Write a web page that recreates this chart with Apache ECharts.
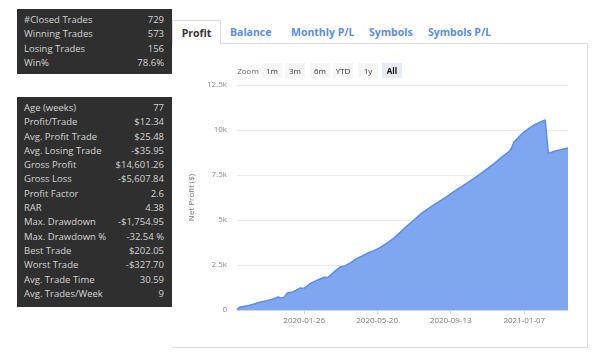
<!DOCTYPE html>
<html>
<head>
<meta charset="utf-8">
<script src="https://cdn.jsdelivr.net/npm/echarts@6/dist/echarts.min.js"></script>
<style>
  body { margin: 0; width: 600px; height: 352px; background: #fff; font-family: "Open Sans", sans-serif; position: relative; overflow: hidden; }
  .stats { position: absolute; left: 17px; width: 155px; background: #2f2f2f; color: #d4d4d4; font-size: 9.5px; box-sizing: border-box; padding: 4px 8px 4px 7px; }
  .stats div { height: 14.3px; line-height: 14.3px; display: flex; justify-content: space-between; }
  #tabs { position: absolute; left: 172px; top: 20px; height: 24px; width: 416px; }
  #tabs span { position: absolute; top: 0; line-height: 24px; font-size: 10.5px; font-weight: bold; color: #5b8ce6; }
  #tabs .on { color: #333; left: 0; width: 47px; text-align: center; border: 1px solid #ddd; border-bottom: none; background: #fff; height: 24px; z-index: 2; }
  #panel { position: absolute; left: 172px; top: 43px; width: 415px; height: 303px; border: 1px solid #ddd; border-left: none; }
  #zoom { position: absolute; left: 237px; top: 63px; height: 15px; font-size: 8px; color: #666; }
  #zoom span { position: absolute; top: 0; height: 15px; line-height: 15px; text-align: center; background: #f7f7f7; color: #333; }
  #zoom .lbl { background: none; color: #666; }
  #zoom .act { background: #e6ebf5; font-weight: bold; color: #000; }
  #chart { position: absolute; left: 172px; top: 44px; width: 416px; height: 303px; }
</style>
</head>
<body>
<div class="stats" id="box1" style="top:9px;height:65px;"></div>
<div class="stats" id="box2" style="top:97px;height:210px;"></div>
<div id="panel"></div>
<div id="tabs">
  <span class="on">Profit</span>
  <span style="left:58px">Balance</span>
  <span style="left:119px">Monthly P/L</span>
  <span style="left:197px">Symbols</span>
  <span style="left:256px">Symbols P/L</span>
</div>
<div id="chart"></div>
<div id="zoom">
  <span class="lbl" style="left:0;width:22px">Zoom</span>
  <span style="left:25px;width:20px">1m</span>
  <span style="left:48px;width:20px">3m</span>
  <span style="left:73px;width:20px">6m</span>
  <span style="left:96px;width:20px">YTD</span>
  <span style="left:121px;width:20px">1y</span>
  <span class="act" style="left:145px;width:20px">All</span>
</div>
<script>
const summaryLabels = ['#Closed Trades', 'Winning Trades', 'Losing Trades', 'Win%'];
const summaryValues = ['729', '573', '156', '78.6%'];

const statLabels = ['Age (weeks)', 'Profit/Trade', 'Avg. Profit Trade', 'Avg. Losing Trade', 'Gross Profit', 'Gross Loss',
  'Profit Factor', 'RAR', 'Max. Drawdown', 'Max. Drawdown %', 'Best Trade', 'Worst Trade', 'Avg. Trade Time', 'Avg. Trades/Week'];
const statValues = ['77', '$12.34', '$25.48', '-$35.95', '$14,601.26', '-$5,607.84',
  '2.6', '4.38', '-$1,754.95', '-32.54 %', '$202.05', '-$327.70', '30.59', '9'];

const dates = ['2019-10-12', '2019-10-16', '2019-10-28', '2019-11-08', '2019-11-17', '2019-11-28', '2019-12-08', '2019-12-16',
  '2019-12-20', '2019-12-25', '2019-12-30', '2020-01-06', '2020-01-12', '2020-01-20', '2020-01-24', '2020-01-28',
  '2020-02-05', '2020-02-14', '2020-02-20', '2020-02-27', '2020-03-03', '2020-03-09', '2020-03-16', '2020-03-23',
  '2020-03-30', '2020-04-08', '2020-04-16', '2020-04-25', '2020-05-05', '2020-05-15', '2020-05-25', '2020-06-04',
  '2020-06-15', '2020-06-25', '2020-07-05', '2020-07-17', '2020-07-28', '2020-08-08', '2020-08-17', '2020-08-28',
  '2020-09-08', '2020-09-18', '2020-09-30', '2020-10-10', '2020-10-20', '2020-11-01', '2020-11-11', '2020-11-21',
  '2020-12-02', '2020-12-14', '2020-12-18', '2020-12-22', '2021-01-01', '2021-01-07', '2021-01-15', '2021-01-23',
  '2021-02-01', '2021-02-09', '2021-02-14', '2021-02-25', '2021-03-17'];
const profit = [30, 150, 230, 330, 430, 520, 610, 730,
  660, 690, 940, 980, 1080, 1230, 1200, 1250,
  1480, 1630, 1720, 1820, 1800, 1980, 2200, 2400,
  2450, 2620, 2830, 2980, 3150, 3300, 3480, 3700,
  3980, 4300, 4640, 5000, 5350, 5620, 5830, 6080,
  6330, 6570, 6850, 7080, 7320, 7620, 7880, 8150,
  8480, 8800, 9000, 9350, 9700, 9900, 10100, 10280,
  10430, 10560, 8700, 8830, 9000];

const xTickLabels = ['2020-01-26', '2020-05-20', '2020-09-13', '2021-01-07'];
const yTickLabels = ['0', '2.5k', '5k', '7.5k', '10k', '12.5k'];

function fillBox(id, labels, values) {
  const box = document.getElementById(id);
  labels.forEach((l, i) => {
    const row = document.createElement('div');
    row.innerHTML = '<span>' + l + '</span><span>' + values[i] + '</span>';
    box.appendChild(row);
  });
}
fillBox('box1', summaryLabels, summaryValues);
fillBox('box2', statLabels, statValues);

// day number since epoch, so the x axis can be a plain value axis
function day(s) {
  const p = s.split('-');
  return Math.round(Date.UTC(+p[0], +p[1] - 1, +p[2]) / 86400000);
}
const xTicks = xTickLabels.map(day);

const chart = echarts.init(document.getElementById('chart'));
chart.setOption({
  animation: false,
  textStyle: { fontFamily: 'Open Sans' },
  grid: { left: 65, right: 20, top: 41, bottom: 37 },
  xAxis: {
    type: 'value',
    min: day(dates[0]),
    max: day(dates[dates.length - 1]),
    axisLine: { lineStyle: { color: '#ccd6eb' } },
    axisTick: { customValues: xTicks, length: 4, lineStyle: { color: '#ccd6eb' } },
    axisLabel: {
      customValues: xTicks,
      color: '#777', fontSize: 8, margin: 7,
      formatter: v => xTickLabels[xTicks.indexOf(v)] || ''
    },
    splitLine: { show: false }
  },
  yAxis: {
    type: 'value',
    min: 0, max: 12500, interval: 2500,
    name: 'Net Profit ($)',
    nameLocation: 'middle',
    nameGap: 33,
    nameTextStyle: { color: '#777', fontSize: 8 },
    axisLabel: { color: '#888', fontSize: 8, margin: 10, formatter: v => yTickLabels[Math.round(v / 2500)] },
    splitLine: { lineStyle: { color: '#e9e9e9' } },
    axisLine: { show: false },
    axisTick: { show: false }
  },
  series: [{
    type: 'line',
    data: dates.map((d, i) => [day(d), profit[i]]),
    showSymbol: false,
    lineStyle: { color: '#5b8ce6', width: 1.5 },
    areaStyle: { color: '#7ea7f0', opacity: 1 }
  }]
});
</script>
</body>
</html>
